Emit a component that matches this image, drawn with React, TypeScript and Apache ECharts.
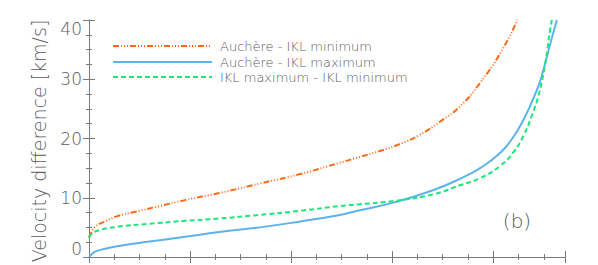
import React, { useEffect, useRef } from "react";
import * as echarts from "echarts";

// x positions (arbitrary units, axis 0..47.1) and values (km/s)
const orangeX = [0.0, 0.1, 0.6, 1.6, 2.8, 4.5, 7.0, 9.5, 12.9, 16.9, 20.9, 24.8, 26.8, 28.8, 30.8, 32.7, 34.7, 36.7, 38.7, 40.7, 42.4];
const orangeY = [3.3, 3.7, 5.1, 6.0, 6.9, 7.6, 8.6, 9.6, 10.8, 12.4, 14.0, 15.9, 16.9, 17.9, 19.1, 20.6, 22.8, 25.4, 29.4, 34.4, 40.0];

const blueX = [0.0, 0.3, 0.6, 1.6, 2.8, 6.0, 9.5, 12.9, 16.9, 20.9, 24.8, 26.8, 30.4, 34.1, 36.7, 38.7, 40.7, 42.0, 43.0, 43.8, 44.5, 45.0, 45.4, 45.9, 46.3];
const blueY = [0.0, 0.5, 0.9, 1.4, 1.8, 2.6, 3.4, 4.2, 5.0, 6.0, 7.1, 7.9, 9.3, 11.3, 13.2, 15.0, 17.6, 20.3, 23.2, 26.1, 29.0, 31.8, 34.4, 37.6, 40.0];

const greenX = [0.0, 0.1, 0.6, 2.8, 6.0, 9.5, 12.9, 16.9, 20.9, 24.8, 26.8, 30.4, 34.1, 36.7, 38.7, 40.7, 42.0, 43.0, 43.8, 44.5, 45.1, 45.35, 45.6, 45.8];
const greenY = [3.3, 3.6, 4.3, 5.1, 5.6, 6.1, 6.5, 7.1, 7.8, 8.6, 8.9, 9.5, 10.6, 12.1, 13.3, 15.4, 17.7, 20.5, 23.8, 27.4, 32.2, 35.0, 38.1, 40.0];

const seriesNames = ["Auchère - IKL minimum", "Auchère - IKL maximum", "IKL maximum - IKL minimum"];
const yTitle = "Velocity difference [km/s]";
const panelLabel = "(b)";

const ORANGE = "#ff6a1a";
const BLUE = "#5db3ea";
const GREEN = "#1ee67c";
const AXIS = "#7a7a7a";
const TEXT = "#5a5a5a";
const FONT = "'DejaVu Sans'";
const WEIGHT = 200;

const zip = (xs: number[], ys: number[]) => xs.map((x, i) => [x, ys[i]]);

export default function App() {
  const ref = useRef<HTMLDivElement>(null);
  useEffect(() => {
    if (!ref.current) return;
    const chart = echarts.init(ref.current, undefined, { renderer: "svg" });
    const xCommon = {
      type: "value" as const,
      min: 0,
      max: 47.1,
      interval: 10,
      axisLine: { show: true, lineStyle: { color: AXIS, width: 1 } },
      axisTick: { show: true, inside: true, length: 6, lineStyle: { color: AXIS } },
      minorTick: { show: true, splitNumber: 4, length: 3, lineStyle: { color: AXIS } },
      axisLabel: { show: false },
      splitLine: { show: false },
    };
    const yCommon = {
      type: "value" as const,
      min: 0,
      max: 40,
      interval: 10,
      axisLine: { show: true, lineStyle: { color: AXIS, width: 1 } },
      axisTick: { show: true, inside: true, length: 6, lineStyle: { color: AXIS } },
      minorTick: { show: true, splitNumber: 4, length: 3, lineStyle: { color: AXIS } },
      splitLine: { show: false },
    };
    const legendRows = [46, 62, 77];
    const legendStyles = [
      { stroke: ORANGE, lineDash: [6, 2, 1, 2, 1, 2, 1, 2] },
      { stroke: BLUE, lineDash: null },
      { stroke: GREEN, lineDash: [5, 3] },
    ];
    const graphics: any[] = [];
    legendRows.forEach((y, i) => {
      graphics.push({
        type: "line",
        shape: { x1: 113, y1: y, x2: 212, y2: y },
        style: { stroke: legendStyles[i].stroke, lineWidth: 2, lineDash: legendStyles[i].lineDash || undefined },
      });
      graphics.push({
        type: "text",
        x: 220,
        y: y,
        style: { text: seriesNames[i], fill: TEXT, font: `${WEIGHT} 13px ${FONT}`, verticalAlign: "middle", align: "left" },
      });
    });
    graphics.push({
      type: "text",
      x: 517,
      y: 221,
      style: { text: panelLabel, fill: TEXT, font: `${WEIGHT} 20px ${FONT}`, verticalAlign: "middle", align: "center" },
    });
    graphics.push({
      type: "text",
      x: 39,
      y: 141,
      rotation: Math.PI / 2,
      style: { text: yTitle, fill: TEXT, font: `${WEIGHT} 19px ${FONT}`, verticalAlign: "middle", align: "center" },
    });

    chart.setOption({
      animation: false,
      grid: { left: 89, right: 33, top: 20, bottom: 8 },
      xAxis: [
        { ...xCommon, position: "bottom" },
        { ...xCommon, position: "top" },
      ],
      yAxis: [
        {
          ...yCommon,
          position: "left",
          axisLabel: {
            show: true,
            margin: 7,
            color: TEXT,
            fontSize: 17,
            fontFamily: FONT,
            fontWeight: WEIGHT,
            verticalAlignMinLabel: "bottom",
            verticalAlignMaxLabel: "top",
          },
        },
        { ...yCommon, position: "right", axisLabel: { show: false } },
      ],
      series: [
        {
          name: seriesNames[0],
          type: "line",
          data: zip(orangeX, orangeY),
          smooth: 0.5,
          showSymbol: false,
          lineStyle: { color: ORANGE, width: 2, type: [6, 2, 1, 2, 1, 2, 1, 2] },
        },
        {
          name: seriesNames[1],
          type: "line",
          data: zip(blueX, blueY),
          smooth: 0.5,
          showSymbol: false,
          lineStyle: { color: BLUE, width: 2 },
        },
        {
          name: seriesNames[2],
          type: "line",
          data: zip(greenX, greenY),
          smooth: 0.5,
          showSymbol: false,
          lineStyle: { color: GREEN, width: 2, type: [5, 3] },
        },
      ],
      graphic: graphics,
    });
    return () => chart.dispose();
  }, []);
  return <div ref={ref} style={{ width: 598, height: 265, position: "absolute", left: 0, top: 0 }} />;
}
